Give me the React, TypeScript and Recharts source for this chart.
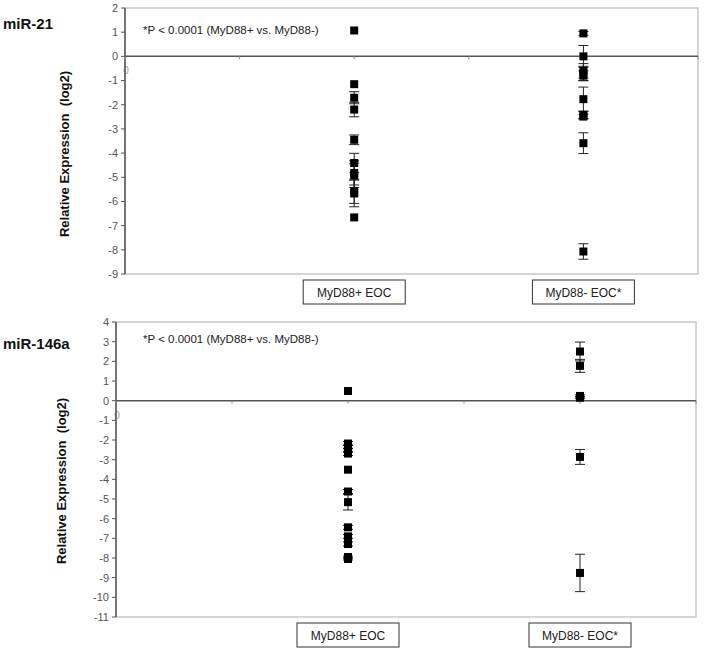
import {
  ScatterChart,
  Scatter,
  XAxis,
  YAxis,
  ZAxis,
  ErrorBar,
  ReferenceLine,
  ReferenceArea,
  ReferenceDot,
} from 'recharts';

const categories = ['MyD88+ EOC', 'MyD88- EOC*'];
const categoryX = [2, 4];
const zeroTicks = [0, 1, 2, 3, 4, 5];
const pNote = '*P < 0.0001 (MyD88+ vs. MyD88-)';

// miR-21
const mir21Ticks = [-9, -8, -7, -6, -5, -4, -3, -2, -1, 0, 1, 2];
const mir21Pos = [1.07, -1.15, -1.71, -2.2, -3.45, -4.41, -4.82, -4.92, -5.58, -5.67, -6.66];
const mir21PosErr = [0, 0, 0.25, 0.3, 0.2, 0.4, 0.5, 0.5, 0.5, 0.55, 0];
const mir21Neg = [0.95, 0, -0.6, -0.71, -0.8, -1.77, -2.42, -2.49, -3.59, -8.07];
const mir21NegErr = [0.08, 0.45, 0.3, 0.3, 0.2, 0.5, 0.15, 0.1, 0.43, 0.32];

// miR-146a
const mir146Ticks = [-11, -10, -9, -8, -7, -6, -5, -4, -3, -2, -1, 0, 1, 2, 3, 4];
const mir146Pos = [0.49, -2.18, -2.35, -2.52, -2.69, -3.51, -4.62, -5.16, -6.44, -6.9, -7.29, -7.95, -8.05];
const mir146PosErr = [0, 0.1, 0.1, 0.1, 0.1, 0, 0.1, 0.4, 0.1, 0.1, 0.1, 0.05, 0.05];
const mir146Neg = [2.5, 1.77, 0.24, 0.15, -2.86, -8.76];
const mir146NegErr = [0.48, 0.33, 0.05, 0.05, 0.38, 0.95];

const font = "'Liberation Sans', Arial, sans-serif";

const toPoints = (x: number, ys: number[], errs: number[]) =>
  ys.map((y, i) => ({ x, y, err: errs[i] }));

function CategoryTick(props: any) {
  const { x, y, payload } = props;
  const label = categories[categoryX.indexOf(payload.value)];
  return (
    <g>
      <rect x={x - 51} y={y + 6} width={102} height={24} fill="#fff" stroke="#333" />
      <text x={x} y={y + 23} textAnchor="middle" fontSize={12} fill="#222" fontFamily={font}>
        {label}
      </text>
    </g>
  );
}

const zeroTick = (p: any) => (
  <line x1={p.cx} x2={p.cx} y1={p.cy} y2={p.cy + 3} stroke="#888" strokeWidth={1} />
);

interface PanelProps {
  top: number;
  height: number;
  margin: { top: number; right: number; bottom: number; left: number };
  ticks: number[];
  pos: { x: number; y: number; err: number }[];
  neg: { x: number; y: number; err: number }[];
}

function Panel({ top, height, margin, ticks, pos, neg }: PanelProps) {
  const yMin = ticks[0];
  const yMax = ticks[ticks.length - 1];
  return (
    <div style={{ position: 'absolute', left: 0, top }}>
      <ScatterChart width={704} height={height} margin={margin}>
        <XAxis
          type="number"
          dataKey="x"
          domain={[0, 5]}
          ticks={categoryX}
          axisLine={false}
          tickLine={false}
          tickSize={0}
          tickMargin={0}
          height={30}
          tick={<CategoryTick />}
        />
        <YAxis
          type="number"
          dataKey="y"
          domain={[yMin, yMax]}
          ticks={ticks}
          interval={0}
          width={40}
          axisLine={{ stroke: '#555', strokeWidth: 1.5 }}
          tickLine={{ stroke: '#555' }}
          tickSize={4}
          tickMargin={3}
          tick={{ fontSize: 11, fill: '#555', fontFamily: font }}
        />
        <ZAxis range={[56, 56]} />
        <ReferenceArea x1={0} x2={5} y1={yMin} y2={yMax} fill="none" stroke="#c8c8c8" strokeWidth={1.5} />
        <ReferenceLine
          y={0}
          stroke="#555"
          strokeWidth={1.5}
          label={({ viewBox }: any) => (
            <text x={viewBox.x + 1} y={viewBox.y + 18} fontSize={10} fill="#999" textAnchor="middle" fontFamily={font}>
              0
            </text>
          )}
        />
        {zeroTicks.map((t) => (
          <ReferenceDot key={t} x={t} y={0} r={1} shape={zeroTick} />
        ))}
        <Scatter data={pos} fill="#000" shape="square" isAnimationActive={false}>
          <ErrorBar dataKey="err" direction="y" width={5} stroke="#222" strokeWidth={1} />
        </Scatter>
        <Scatter data={neg} fill="#000" shape="square" isAnimationActive={false}>
          <ErrorBar dataKey="err" direction="y" width={5} stroke="#222" strokeWidth={1} />
        </Scatter>
      </ScatterChart>
    </div>
  );
}

const overlay = (left: number, top: number, text: string, style: any) => (
  <div
    style={{
      position: 'absolute',
      left,
      top,
      whiteSpace: 'nowrap',
      fontFamily: font,
      color: '#111',
      ...style,
    }}
  >
    {text}
  </div>
);

const yLabel = (cx: number, cy: number) => (
  <div
    style={{
      position: 'absolute',
      left: cx,
      top: cy,
      transform: 'translate(-50%, -50%) rotate(-90deg)',
      whiteSpace: 'nowrap',
      fontFamily: font,
      fontWeight: 'bold',
      fontSize: 13,
      color: '#111',
    }}
  >
    Relative Expression&nbsp;&nbsp;(log2)
  </div>
);

export default function App() {
  return (
    <div style={{ position: 'absolute', left: 0, top: 0, width: 704, height: 651, background: '#fff' }}>
      <Panel
        top={0}
        height={310}
        margin={{ top: 8, right: 6, bottom: 6, left: 85 }}
        ticks={mir21Ticks}
        pos={toPoints(categoryX[0], mir21Pos, mir21PosErr)}
        neg={toPoints(categoryX[1], mir21Neg, mir21NegErr)}
      />
      <Panel
        top={310}
        height={341}
        margin={{ top: 12, right: 8, bottom: 4, left: 76 }}
        ticks={mir146Ticks}
        pos={toPoints(categoryX[0], mir146Pos, mir146PosErr)}
        neg={toPoints(categoryX[1], mir146Neg, mir146NegErr)}
      />
      {overlay(3, 15, 'miR-21', { fontSize: 15, fontWeight: 'bold', lineHeight: '18px' })}
      {overlay(3, 335, 'miR-146a', { fontSize: 15, fontWeight: 'bold', lineHeight: '18px' })}
      {overlay(143, 23, pNote, { fontSize: 11.5, lineHeight: '14px', color: '#222' })}
      {overlay(143, 332, pNote, { fontSize: 11.5, lineHeight: '14px', color: '#222' })}
      {yLabel(64, 154)}
      {yLabel(61, 481)}
    </div>
  );
}
